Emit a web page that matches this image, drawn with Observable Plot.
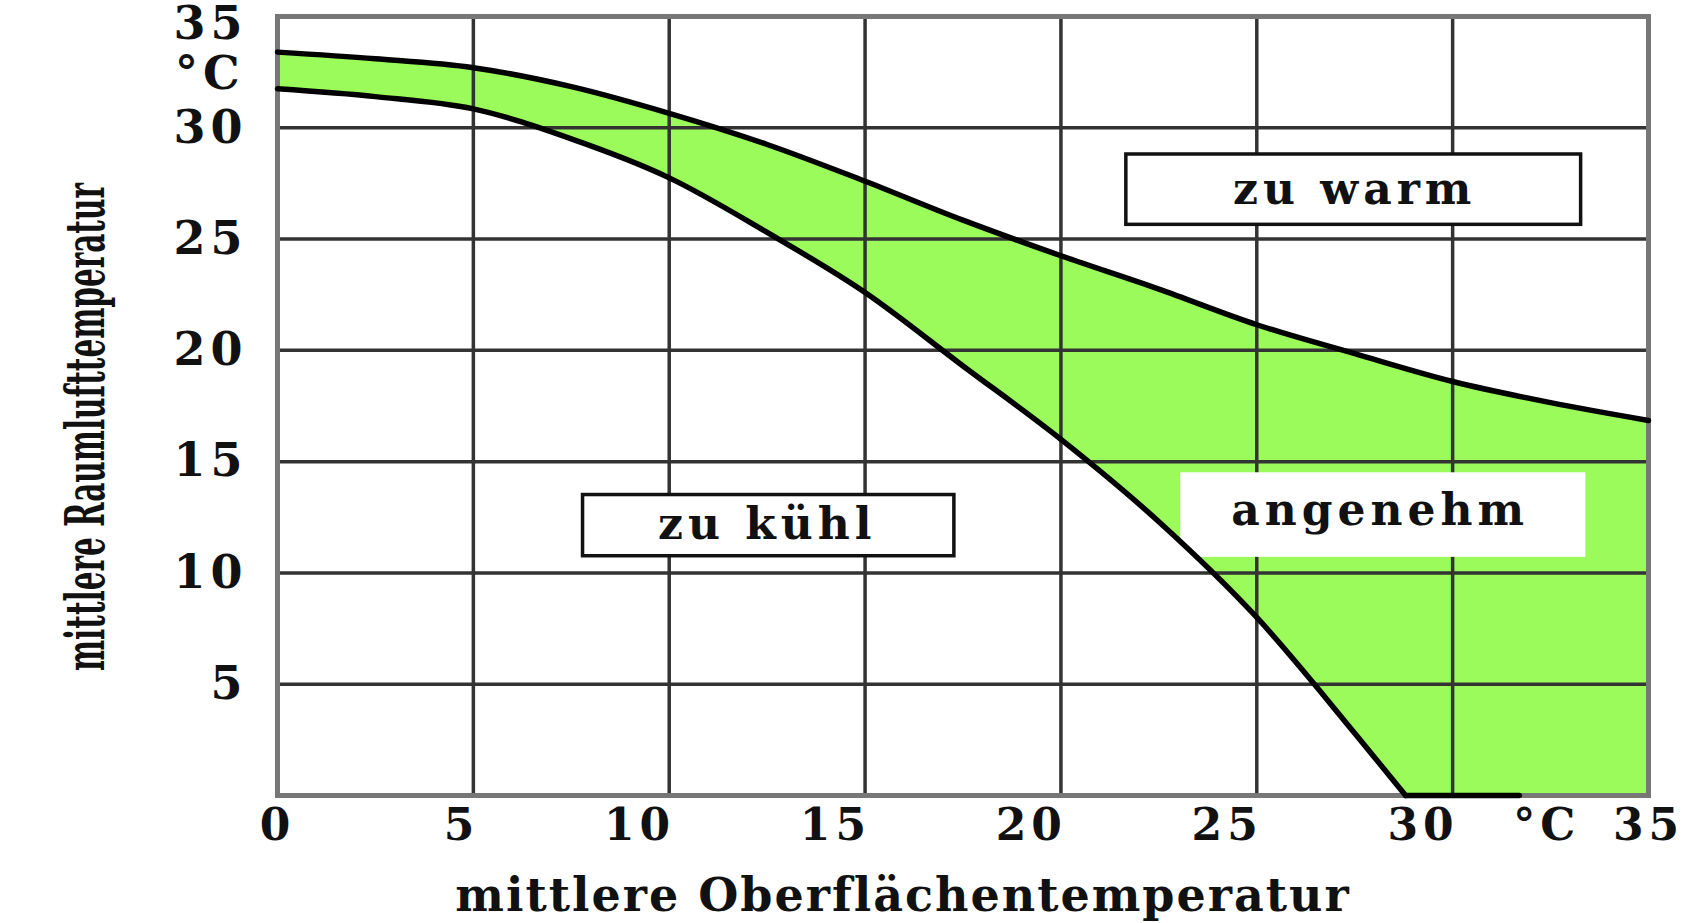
<!DOCTYPE html>
<html>
<head>
<meta charset="utf-8">
<script src="https://cdn.jsdelivr.net/npm/d3@7"></script>
<script src="https://cdn.jsdelivr.net/npm/@observablehq/plot@0.6"></script>
<style>
  html, body { margin: 0; padding: 0; background: #fff; }
</style>
</head>
<body>
<div id="chart"></div>
<script>
// Axis ticks
const xTicks = [0, 5, 10, 15, 20, 25, 30, 35];
const yTicks = [5, 10, 15, 20, 25, 30, 35];
const unitLabel = "°C";
const xTitle = "mittlere Oberflächentemperatur";
const yTitle = "mittlere Raumlufttemperatur";

// Upper boundary (zu warm)
const upperX = [0, 2.5, 5, 7.5, 10, 12.5, 15, 17.5, 20, 22.5, 25, 27.5, 30, 32.5, 35];
const upperY = [33.4, 33.1, 32.7, 31.85, 30.65, 29.25, 27.6, 25.85, 24.25, 22.75, 21.15, 19.85, 18.6, 17.65, 16.85];

// Lower boundary (zu kühl)
const lowerX = [0, 2.5, 5, 7.5, 10, 12.5, 15, 17.5, 20, 22.5, 25, 27.5, 28.8, 31.7];
const lowerY = [31.75, 31.4, 30.85, 29.5, 27.75, 25.3, 22.6, 19.3, 16.0, 12.3, 8.0, 2.8, 0, 0];

// Region labels (data coordinates)
const regionText = ["zu warm", "zu kühl", "angenehm"];
const regionX = [27.5, 12.5, 28.15];
const regionY = [27.2, 12.15, 12.8];
const boxX1 = [21.67, 7.8, 23.06];
const boxX2 = [33.28, 17.28, 33.4];
const boxY1 = [25.64, 10.75, 10.7];
const boxY2 = [28.8, 13.5, 14.5];
const boxFramed = [true, true, false];

// Unit / title anchor positions (data coordinates)
const yUnitAt = 32.4;
const xUnitAt = 32.4;
const yTitleX = -4.875;
const yTitleY = 5.59;

const green = "#9afb5a";
const font = "DejaVu Serif";

const uI = d3.range(upperX.length);
const corner = lowerY.indexOf(0);
const lCurve = d3.range(corner + 1);
const lFlat = d3.range(corner, lowerX.length);
const bI = d3.range(regionText.length);

const plot = Plot.plot({
  width: 1684,
  height: 923,
  marginLeft: 277,
  marginRight: 36,
  marginTop: 16,
  marginBottom: 128,
  x: {domain: [0, 35], axis: null},
  y: {domain: [0, 35], axis: null},
  style: {background: "white", fontFamily: font, letterSpacing: "5px", color: "#111"},
  marks: [
    Plot.areaY(uI, {x: i => upperX[i], y1: 0, y2: i => upperY[i], fill: green, curve: "monotone-x"}),
    Plot.areaY(lCurve, {x: i => lowerX[i], y1: 0, y2: i => lowerY[i], fill: "white", curve: "monotone-x"}),
    Plot.ruleX(xTicks.slice(1, -1), {stroke: "#333", strokeWidth: 3.5}),
    Plot.ruleY(yTicks.slice(0, -1), {stroke: "#333", strokeWidth: 3.5}),
    Plot.frame({stroke: "#777", strokeWidth: 5}),
    Plot.rect(bI.filter(i => boxFramed[i]), {x1: i => boxX1[i], x2: i => boxX2[i], y1: i => boxY1[i], y2: i => boxY2[i], fill: "white", stroke: "#111", strokeWidth: 3.5}),
    Plot.rect(bI.filter(i => !boxFramed[i]), {x1: i => boxX1[i], x2: i => boxX2[i], y1: i => boxY1[i], y2: i => boxY2[i], fill: "white"}),
    Plot.line(uI, {x: i => upperX[i], y: i => upperY[i], stroke: "#000", strokeWidth: 5.5, curve: "monotone-x"}),
    Plot.line(lCurve, {x: i => lowerX[i], y: i => lowerY[i], stroke: "#000", strokeWidth: 5.5, curve: "monotone-x"}),
    Plot.line(lFlat, {x: i => lowerX[i], y: i => lowerY[i], stroke: "#000", strokeWidth: 5.5}),
    Plot.text(bI, {x: i => regionX[i], y: i => regionY[i], text: i => regionText[i], fontSize: 44, fontWeight: "bold", fill: "#111"}),
    // y tick labels
    Plot.text(yTicks.slice(0, -1), {y: d => d, text: d => `${d}`, frameAnchor: "left", dx: -30, textAnchor: "end", fontSize: 46, fontWeight: "bold", fill: "#111"}),
    Plot.text(yTicks.slice(-1), {y: d => d, text: d => `${d}`, frameAnchor: "left", dx: -30, dy: 8, textAnchor: "end", fontSize: 46, fontWeight: "bold", fill: "#111"}),
    Plot.text([unitLabel], {y: yUnitAt, text: d => d, frameAnchor: "left", dx: -33, textAnchor: "end", fontSize: 46, fontWeight: "bold", fill: "#111"}),
    // x tick labels
    Plot.text(xTicks.filter((d, i) => i > 0 && i < xTicks.length - 1), {x: d => d, text: d => `${d}`, frameAnchor: "bottom", dy: 44, dx: 6, textAnchor: "end", fontSize: 44, fontWeight: "bold", fill: "#111"}),
    Plot.text([xTicks[0], xTicks[xTicks.length - 1]], {x: d => d, text: d => `${d}`, frameAnchor: "bottom", dy: 44, textAnchor: "middle", fontSize: 44, fontWeight: "bold", fill: "#111"}),
    Plot.text([unitLabel], {x: xUnitAt, text: d => d, frameAnchor: "bottom", dy: 44, textAnchor: "middle", fontSize: 44, fontWeight: "bold", fill: "#111"}),
    // axis titles
    Plot.text([xTitle], {text: d => d, frameAnchor: "bottom", dy: 115, dx: -60, fontSize: 46, fontWeight: "bold", fill: "#111"}),
    Plot.text([yTitle], {x: yTitleX, y: yTitleY, text: d => d, rotate: -90, textAnchor: "start", fontSize: 54, fontWeight: "bold", fill: "#111"})
  ]
});

const svg = d3.select(plot);
svg.selectAll("text")
  .filter(function() { return this.textContent === yTitle; })
  .attr("textLength", 488)
  .attr("lengthAdjust", "spacingAndGlyphs")
  .style("letter-spacing", "0px");
svg.selectAll("text")
  .filter(function() { return this.textContent === xTitle; })
  .style("letter-spacing", "2px");

document.getElementById("chart").appendChild(plot);
</script>
</body>
</html>
